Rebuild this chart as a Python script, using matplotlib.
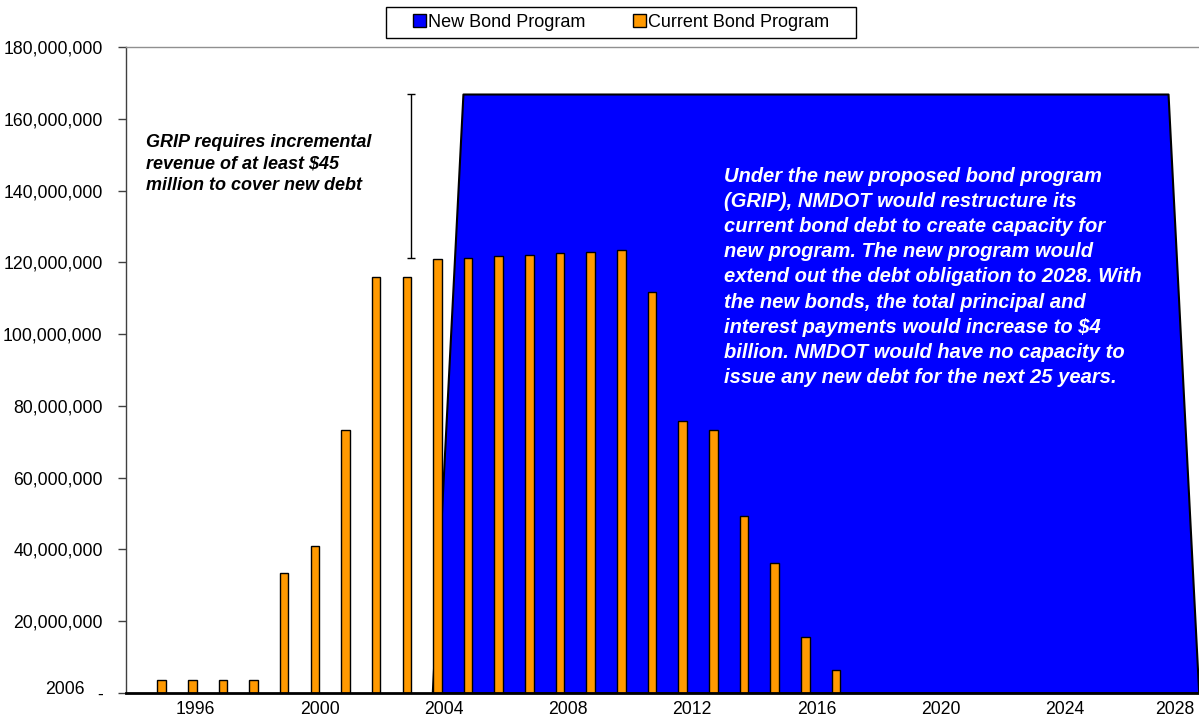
import matplotlib
matplotlib.use("Agg")
import matplotlib.pyplot as plt
from matplotlib.patches import Patch, Rectangle
from matplotlib.ticker import FuncFormatter

plt.rcParams['font.family'] = ['Liberation Sans', 'DejaVu Sans']

# current bond program, debt service per year ($ millions)
cur_years = [1995, 1996, 1997, 1998, 1999, 2000, 2001, 2002, 2003, 2004, 2005, 2006,
             2007, 2008, 2009, 2010, 2011, 2012, 2013, 2014, 2015, 2016, 2017]
cur_vals = [3.7, 3.7, 3.7, 3.7, 33.4, 41.0, 73.3, 115.9, 115.9, 120.9, 121.2, 121.8,
            122.1, 122.6, 122.9, 123.4, 111.7, 75.8, 73.3, 49.3, 36.2, 15.6, 6.3]

# new bond program (GRIP)
new_years = [2004, 2005, 2006, 2007, 2008, 2009, 2010, 2011, 2012, 2013, 2014, 2015, 2016,
             2017, 2018, 2019, 2020, 2021, 2022, 2023, 2024, 2025, 2026, 2027, 2028, 2029]
new_vals = [0, 166.9, 166.9, 166.9, 166.9, 166.9, 166.9, 166.9, 166.9, 166.9, 166.9, 166.9, 166.9,
            166.9, 166.9, 166.9, 166.9, 166.9, 166.9, 166.9, 166.9, 166.9, 166.9, 166.9, 166.9, 0]

# gap between current and new program
gap_year = 2003.15
gap_low, gap_high = 121.2, 166.9

tick_years = [1996, 2000, 2004, 2008, 2012, 2016, 2020, 2024, 2028]

left_note = "GRIP requires incremental\nrevenue of at least $45\nmillion to cover new debt"
right_note = ("Under the new proposed bond program\n(GRIP), NMDOT would restructure its\n"
              "current bond debt to create capacity for\nnew program. The new program would\n"
              "extend out the debt obligation to 2028. With\nthe new bonds, the total principal and\n"
              "interest payments would increase to $4\nbillion. NMDOT would have no capacity to\n"
              "issue any new debt for the next 25 years.")

W, H = 1199, 717
fig = plt.figure(figsize=(W / 100, H / 100), dpi=100)
ax = fig.add_axes([126 / W, 1 - 693 / H, 1 - 126 / W, (693 - 47) / H])

ax.fill_between([y - 0.17 for y in new_years], [v * 1e6 for v in new_vals], 0,
                facecolor='#0000FF', edgecolor='black', linewidth=1.5, zorder=1)
ax.bar(cur_years, [v * 1e6 for v in cur_vals], width=0.28, color='#FF9900',
       edgecolor='black', linewidth=1, zorder=3)

ax.errorbar([gap_year], [(gap_low + gap_high) / 2 * 1e6],
            yerr=[[(gap_high - gap_low) / 2 * 1e6]], fmt='none', ecolor='black',
            elinewidth=1, capsize=3, capthick=1, zorder=4)

ax.set_xlim(1993.84, 2028.84)
ax.set_ylim(0, 180e6)
ax.set_yticks([i * 20e6 for i in range(10)])
ax.yaxis.set_major_formatter(FuncFormatter(lambda v, p: "-" if v == 0 else f"{int(v):,}"))
# last label is pulled in so it stays inside the figure
ax.set_xticks([min(y + 0.1 + 0.013 * (y - 1996), 2028.05) for y in tick_years])
ax.set_xticklabels([str(y) for y in tick_years])
ax.tick_params(axis='y', direction='out', length=6, width=1, color='#404040',
               pad=10.8, labelsize=12.7)
ax.tick_params(axis='x', length=0, pad=5.5, labelsize=12.7)

ax.spines['right'].set_visible(False)
ax.spines['top'].set_color('#909090')
ax.spines['top'].set_linewidth(1)
ax.spines['left'].set_color('#404040')
ax.spines['left'].set_linewidth(1)
ax.spines['bottom'].set_color('black')
ax.spines['bottom'].set_linewidth(2)
ax.spines['bottom'].set_zorder(5)

fig.text(146 / W, 1 - 164 / H, left_note, fontsize=13, fontweight='bold', style='italic',
         ha='left', va='center', linespacing=1.36)
fig.text(724 / W, 1 - 277 / H, right_note, fontsize=14.5, fontweight='bold', style='italic',
         color='white', ha='left', va='center', linespacing=1.415)
fig.text(65 / W, 1 - 689 / H, "2006", fontsize=12.7, ha='center', va='center')

# legend
fig.patches.append(Rectangle((386 / W, 1 - 38 / H), 470 / W, 31 / H, transform=fig.transFigure,
                             facecolor='white', edgecolor='black', linewidth=1))
handles = [Patch(facecolor='#0000FF', edgecolor='black', linewidth=1),
           Patch(facecolor='#FF9900', edgecolor='black', linewidth=1)]
fig.legend(handles, ['New Bond Program', 'Current Bond Program'], loc='center',
           bbox_to_anchor=(621 / W, 1 - 22.5 / H), ncol=2, frameon=False, fontsize=13,
           handlelength=0.72, handleheight=0.72, handletextpad=0.15, columnspacing=2.6,
           borderpad=0.2)

fig.savefig("out.png", dpi=100)
